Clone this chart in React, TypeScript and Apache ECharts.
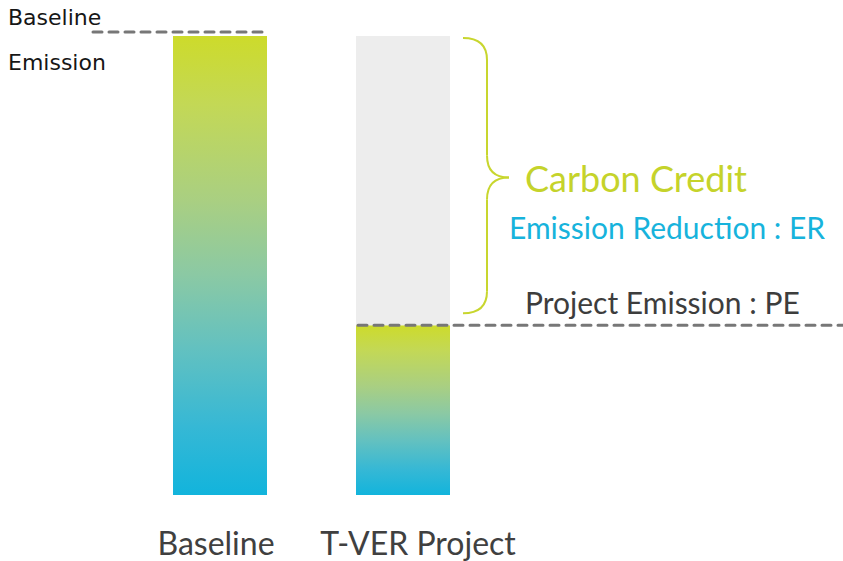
import React, { useEffect, useRef } from "react";
import * as echarts from "echarts";

const categories = ["Baseline", "T-VER Project"];
const emissionValues = [100, 37];
const reductionValues: (number | string)[] = ["-", 63];
const yMax = 100;
const leftLabels = ["Baseline", "Emission"];
const creditLabel = "Carbon Credit";
const reductionLabel = "Emission Reduction : ER";
const projectLabel = "Project Emission : PE";

const FONT = "Lato, 'Noto Sans', sans-serif";

export default function App() {
  const ref = useRef<HTMLDivElement>(null);
  useEffect(() => {
    if (!ref.current) return;
    const chart = echarts.init(ref.current, null, { renderer: "svg" });
    const barW = 94;
    const labelStyle = { fontSize: 32, color: "#404040", fontFamily: FONT };
    chart.setOption({
      animation: false,
      backgroundColor: "#ffffff",
      grid: { left: 128.5, width: 366, top: 36, bottom: 66, containLabel: false },
      xAxis: {
        type: "category",
        data: categories,
        axisLine: { show: false },
        axisTick: { show: false },
        axisLabel: {
          interval: 0,
          hideOverlap: false,
          margin: 31,
          ...labelStyle,
          formatter: (v: string, i: number) => (i === 0 ? `{a|${v}}` : `{b|${v}}`),
          rich: {
            a: { ...labelStyle, padding: [0, 8, 0, 0] },
            b: { ...labelStyle, padding: [0, 0, 0, 30] },
          },
        },
      },
      yAxis: { type: "value", min: 0, max: yMax, show: false, splitLine: { show: false } },
      series: [
        {
          type: "bar",
          stack: "total",
          barWidth: barW,
          data: emissionValues,
          itemStyle: {
            color: new echarts.graphic.LinearGradient(0, 0, 0, 1, [
              { offset: 0, color: "#cddb2b" },
              { offset: 0.15, color: "#c3d856" },
              { offset: 0.36, color: "#a9cf82" },
              { offset: 0.52, color: "#8bc9a4" },
              { offset: 0.68, color: "#63c1c0" },
              { offset: 0.85, color: "#36b8d5" },
              { offset: 1, color: "#12b4dc" },
            ]),
          },
        },
        {
          type: "bar",
          stack: "total",
          barWidth: barW,
          data: reductionValues,
          itemStyle: { color: "#ededed" },
        },
      ],
    });

    const pTop0 = chart.convertToPixel({ xAxisIndex: 0, yAxisIndex: 0 }, [0, yMax]) as number[];
    const pPE = chart.convertToPixel({ xAxisIndex: 0, yAxisIndex: 0 }, [1, emissionValues[1]]) as number[];
    const pTop1 = chart.convertToPixel(
      { xAxisIndex: 0, yAxisIndex: 0 },
      [1, emissionValues[1] + (reductionValues[1] as number)]
    ) as number[];
    const half = barW / 2;
    const dashStyle = { stroke: "#777777", lineWidth: 3, lineDash: [9, 7], lineCap: "round" };
    const braceColor = "#c8d62e";
    const bx0 = pTop1[0] + half + 13;
    const bxm = bx0 + 24;
    const bxt = bxm + 22;
    const bTop = pTop1[1] + 2;
    const bBot = pPE[1] - 12;
    const bMid = (bTop + bBot) / 2 + 2;
    const braceStyle = { stroke: braceColor, lineWidth: 2, fill: null };
    const r = 22;
    const leftFont = "'DejaVu Sans', sans-serif";
    const Z = 100;

    chart.setOption({
      graphic: [
        {
          type: "line", z: Z,
          shape: { x1: 93, y1: pTop0[1] - 4, x2: pTop0[0] + half - 2, y2: pTop0[1] - 4 },
          style: dashStyle,
        },
        {
          type: "line", z: Z,
          shape: { x1: pPE[0] - half + 2, y1: pPE[1], x2: 843, y2: pPE[1] },
          style: dashStyle,
        },
        { type: "bezierCurve", z: Z, shape: { x1: bx0, y1: bTop, cpx1: bxm, cpy1: bTop, x2: bxm, y2: bTop + r }, style: braceStyle },
        { type: "line", z: Z, shape: { x1: bxm, y1: bTop + r, x2: bxm, y2: bMid - r }, style: braceStyle },
        { type: "bezierCurve", z: Z, shape: { x1: bxm, y1: bMid - r, cpx1: bxm, cpy1: bMid, x2: bxt, y2: bMid }, style: braceStyle },
        { type: "bezierCurve", z: Z, shape: { x1: bxt, y1: bMid, cpx1: bxm, cpy1: bMid, x2: bxm, y2: bMid + r }, style: braceStyle },
        { type: "line", z: Z, shape: { x1: bxm, y1: bMid + r, x2: bxm, y2: bBot - r }, style: braceStyle },
        { type: "bezierCurve", z: Z, shape: { x1: bxm, y1: bBot - r, cpx1: bxm, cpy1: bBot, x2: bx0, y2: bBot }, style: braceStyle },
        {
          type: "text", x: 8, y: 17, z: Z,
          style: { text: leftLabels[0], fontSize: 22, fontWeight: "normal", fill: "#161616", fontFamily: leftFont, verticalAlign: "middle" },
        },
        {
          type: "text", x: 8, y: 62, z: Z,
          style: { text: leftLabels[1], fontSize: 22, fontWeight: "normal", fill: "#161616", fontFamily: leftFont, verticalAlign: "middle" },
        },
        {
          type: "text", x: bxt + 16, y: bMid, z: Z,
          style: { text: creditLabel, fontSize: 36, fill: "#c5d32b", fontFamily: FONT, verticalAlign: "middle" },
        },
        {
          type: "text", x: bxt, y: bMid + 49, z: Z,
          style: { text: reductionLabel, fontSize: 30, fill: "#17b3dc", fontFamily: FONT, verticalAlign: "middle" },
        },
        {
          type: "text", x: bxt + 16, y: pPE[1] - 23, z: Z,
          style: { text: projectLabel, fontSize: 30, fill: "#3d3d3d", fontFamily: FONT, verticalAlign: "middle" },
        },
      ],
    });
    return () => chart.dispose();
  }, []);
  return (
    <div
      ref={ref}
      style={{ position: "absolute", left: 0, top: 0, width: 843, height: 561 }}
    />
  );
}
